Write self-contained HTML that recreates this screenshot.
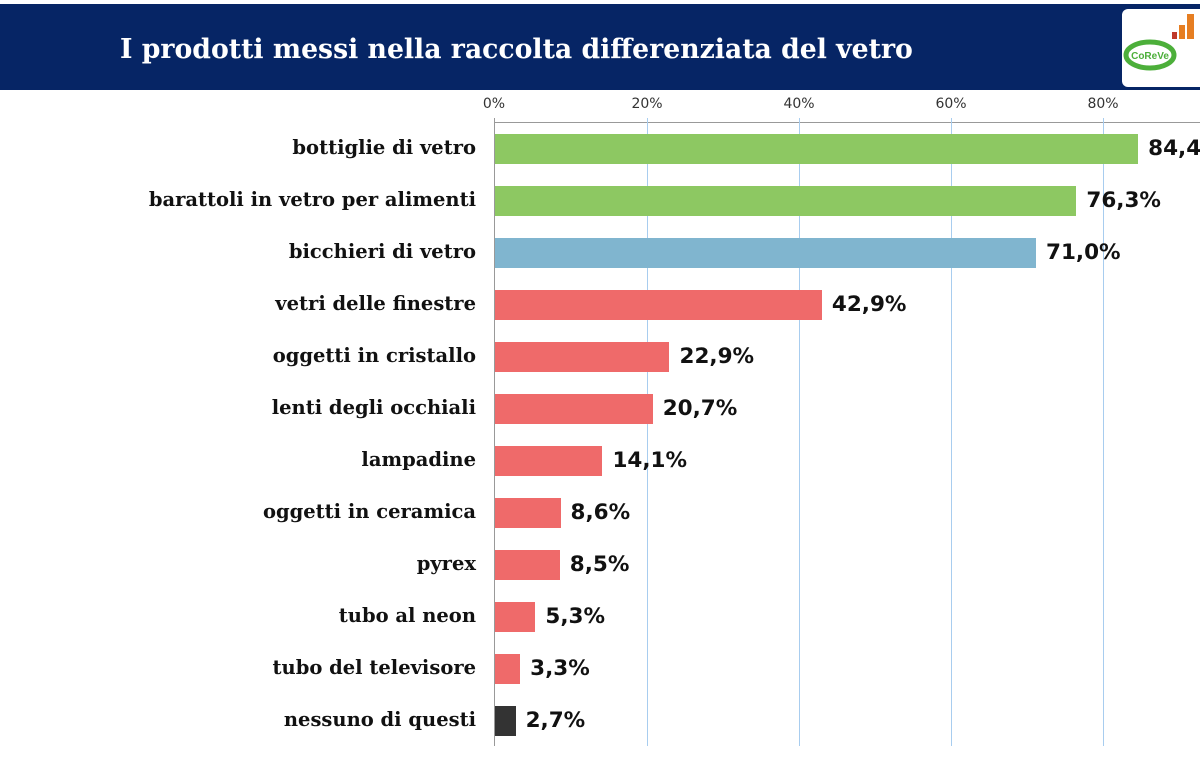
<!DOCTYPE html>
<html><head><meta charset="utf-8"><style>
body{margin:0;width:1200px;height:762px;background:#fff;overflow:hidden;position:relative;font-family:"Liberation Sans",sans-serif}
.hdr{position:absolute;left:0;top:4px;width:1200px;height:86px;background:#062565}
.ttl{position:absolute;left:120px;top:34px;color:#fff;font:bold 26.7px "DejaVu Serif",serif;white-space:nowrap}
.logo{position:absolute;left:1122px;top:9px;width:90px;height:78px;background:#fff;border-radius:6px}
.lbl{position:absolute;right:724px;font:bold 19.5px "DejaVu Serif",serif;color:#111;white-space:nowrap}
.bar{position:absolute;left:495px;height:30px}
.val{position:absolute;font:bold 21.5px "DejaVu Sans",sans-serif;color:#111}
.tick{position:absolute;top:96px;font:14px "DejaVu Sans",sans-serif;color:#333;transform:translateX(-50%)}
.grid{position:absolute;top:118px;width:1px;height:628px;background:#a8cdef}
</style></head><body>
<div class="hdr"></div>
<div class="ttl">I prodotti messi nella raccolta differenziata del vetro</div>
<div class="logo">
<svg width="90" height="78">
<rect x="50" y="23" width="5" height="7" fill="#c0392b"/><rect x="57" y="16" width="6" height="14" fill="#e67e22"/><rect x="65" y="5" width="7" height="25" fill="#e67e22"/>
<ellipse cx="28" cy="46" rx="24" ry="13" fill="none" stroke="#4caf3a" stroke-width="5"/>
<text x="28" y="50" font-size="10" font-family="Liberation Sans" fill="#4caf3a" text-anchor="middle" font-weight="bold">CoReVe</text>
</svg></div>
<div style="position:absolute;left:494px;top:122px;width:706px;height:1px;background:#999"></div>
<div style="position:absolute;left:494px;top:118px;width:1px;height:628px;background:#999"></div>
<div class="grid" style="left:647px"></div><div class="grid" style="left:799px"></div><div class="grid" style="left:951px"></div><div class="grid" style="left:1103px"></div>
<div class="tick" style="left:494px">0%</div><div class="tick" style="left:647px">20%</div><div class="tick" style="left:799px">40%</div><div class="tick" style="left:951px">60%</div><div class="tick" style="left:1103px">80%</div>
<div id="c"></div>
<script>
var d=[["bottiglie di vetro",84.4,"#8dc862"],["barattoli in vetro per alimenti",76.3,"#8dc862"],["bicchieri di vetro",71.0,"#80b5cf"],["vetri delle finestre",42.9,"#ef6a6a"],["oggetti in cristallo",22.9,"#ef6a6a"],["lenti degli occhiali",20.7,"#ef6a6a"],["lampadine",14.1,"#ef6a6a"],["oggetti in ceramica",8.6,"#ef6a6a"],["pyrex",8.5,"#ef6a6a"],["tubo al neon",5.3,"#ef6a6a"],["tubo del televisore",3.3,"#ef6a6a"],["nessuno di questi",2.7,"#333333"]];
var h="";d.forEach(function(r,i){var cy=149+i*52,w=r[1]*7.62;
h+='<div class="lbl" style="top:'+(cy-13)+'px">'+r[0]+'</div>';
h+='<div class="bar" style="top:'+(cy-15)+'px;width:'+w+'px;background:'+r[2]+'"></div>';
h+='<div class="val" style="top:'+(cy-13)+'px;left:'+(495+w+10)+'px">'+r[1].toFixed(1).replace(".",",")+'%</div>';});
document.getElementById("c").innerHTML=h;
</script>
</body></html>
